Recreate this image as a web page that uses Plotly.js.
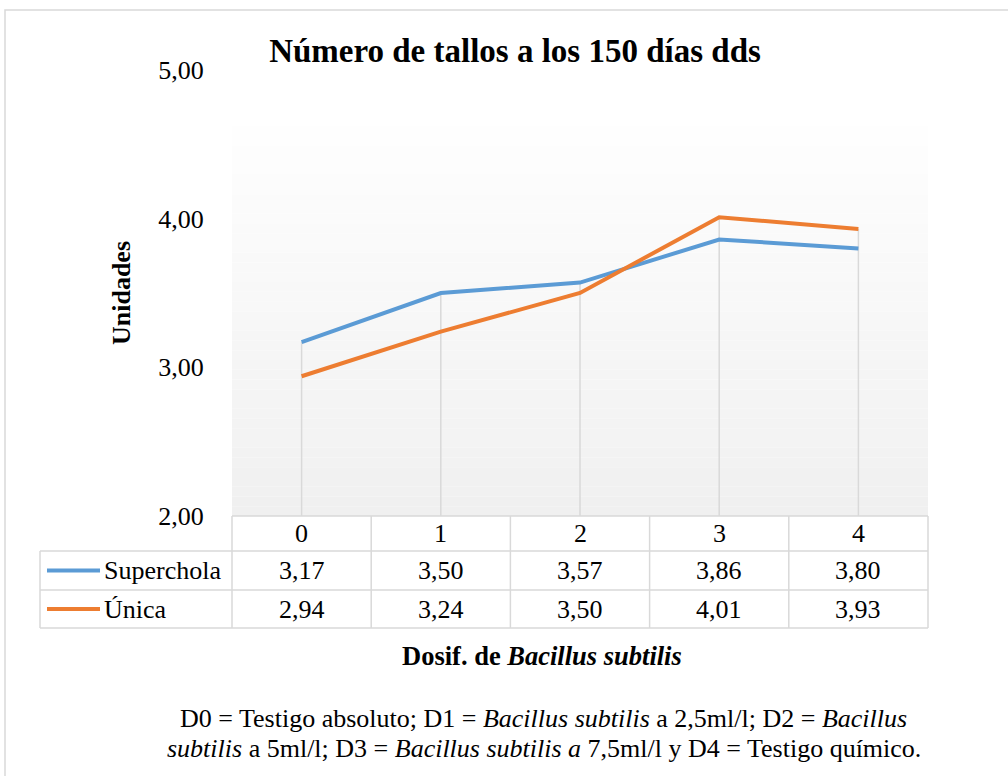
<!DOCTYPE html>
<html>
<head>
<meta charset="utf-8">
<script src="https://cdn.plot.ly/plotly-3.0.1.min.js"></script>
<style>html,body{margin:0;padding:0;background:#fff;}#chart{width:1008px;height:776px;}</style>
</head>
<body>
<div id="chart"></div>
<script>
var categories = ["0", "1", "2", "3", "4"];
var seriesNames = ["Superchola", "Única"];
var superchola = [3.17, 3.50, 3.57, 3.86, 3.80];
var unica = [2.94, 3.24, 3.50, 4.01, 3.93];
var yTicks = [2, 3, 4, 5];

var colors = ["#5B9BD5", "#ED7D31"];
var series = [superchola, unica];
var xIdx = categories.map(function (c, i) { return i; });

// pixel geometry helpers
var W = 1008, H = 776;
var mL = 232, mR = 80, mT = 70, mB = 260;
var pw = W - mL - mR, ph = H - mT - mB;
function px(x) { return (x - mL) / pw; }
function py(y) { return (H - mB - y) / ph; }
function fmt(v) { return v.toFixed(2).replace('.', ','); }

var font = 'Liberation Serif';
function f(size) { return { family: font, size: size, color: '#000' }; }

var traces = series.map(function (s, k) {
  return {
    type: 'scatter', mode: 'lines', name: seriesNames[k],
    x: xIdx, y: s,
    line: { color: colors[k], width: 4 },
    cliponaxis: false,
    hovertemplate: seriesNames[k] + ': %{y:.2f}<extra></extra>'
  };
});

var grid = '#d9d9d9';
var shapes = [];
// background gradient bands
var gTop = py(126), nb = 40;
for (var b = 0; b < nb; b++) {
  var t = b / (nb - 1);
  var c = Math.round(254 - 14 * t);
  shapes.push({ type: 'rect', xref: 'paper', yref: 'paper', layer: 'below',
    x0: 0, x1: 1, y0: gTop * (1 - (b + 1) / nb), y1: gTop * (1 - b / nb),
    line: { width: 0 }, fillcolor: 'rgb(' + c + ',' + c + ',' + c + ')' });
}
// outer frame
shapes.push({ type: 'rect', xref: 'paper', yref: 'paper', layer: 'below',
  x0: px(5), x1: px(1012), y0: py(10), y1: py(790),
  line: { color: grid, width: 1.5 }, fillcolor: 'rgba(0,0,0,0)' });
// drop lines (to highest value per category)
xIdx.forEach(function (i) {
  var top = Math.max(superchola[i], unica[i]);
  shapes.push({ type: 'line', xref: 'x', yref: 'y', layer: 'below',
    x0: i, x1: i, y0: 2, y1: top, line: { color: grid, width: 1.5 } });
});
// data table lines
var rowY = [516, 551, 590, 628];
var leftX = 40;
shapes.push({ type: 'line', xref: 'paper', yref: 'paper', x0: 0, x1: 1, y0: py(rowY[0]), y1: py(rowY[0]), line: { color: grid, width: 1.5 } });
for (var r = 1; r < rowY.length; r++) {
  shapes.push({ type: 'line', xref: 'paper', yref: 'paper', x0: px(leftX), x1: 1, y0: py(rowY[r]), y1: py(rowY[r]), line: { color: grid, width: 1.5 } });
}
shapes.push({ type: 'line', xref: 'paper', yref: 'paper', x0: px(leftX), x1: px(leftX), y0: py(rowY[1]), y1: py(rowY[3]), line: { color: grid, width: 1.5 } });
for (var j = 0; j <= categories.length; j++) {
  var xp = j / categories.length;
  shapes.push({ type: 'line', xref: 'paper', yref: 'paper', x0: xp, x1: xp, y0: py(rowY[0]), y1: py(rowY[3]), line: { color: grid, width: 1.5 } });
}
// legend keys in table
series.forEach(function (s, k) {
  var yc = py((rowY[k + 1] + rowY[k + 2]) / 2);
  shapes.push({ type: 'line', xref: 'paper', yref: 'paper', x0: px(47), x1: px(100), y0: yc, y1: yc, line: { color: colors[k], width: 4 } });
});

var annotations = [];
categories.forEach(function (c, i) {
  annotations.push({ xref: 'x', yref: 'paper', x: i, y: py((rowY[0] + rowY[1]) / 2), text: c, showarrow: false, font: f(26), xanchor: 'center', yanchor: 'middle' });
  series.forEach(function (s, k) {
    annotations.push({ xref: 'x', yref: 'paper', x: i, y: py((rowY[k + 1] + rowY[k + 2]) / 2), text: fmt(s[i]), showarrow: false, font: f(26), xanchor: 'center', yanchor: 'middle' });
  });
});
seriesNames.forEach(function (n, k) {
  annotations.push({ xref: 'paper', yref: 'paper', x: px(102), y: py((rowY[k + 1] + rowY[k + 2]) / 2), text: n, showarrow: false, font: f(26), xanchor: 'left', yanchor: 'middle' });
});
// x axis title
annotations.push({ xref: 'paper', yref: 'paper', x: px(542), y: py(656), text: '<b>Dosif. de <i>Bacillus subtilis</i></b>', showarrow: false, font: f(26.5), xanchor: 'center', yanchor: 'middle' });
// footnote (two lines)
annotations.push({ xref: 'paper', yref: 'paper', x: px(543), y: py(718), text: 'D0 = Testigo absoluto; D1 = <i>Bacillus subtilis</i> a 2,5ml/l; D2 = <i>Bacillus</i>', showarrow: false, font: f(26), xanchor: 'center', yanchor: 'middle' });
annotations.push({ xref: 'paper', yref: 'paper', x: px(544), y: py(748), text: '<i>subtilis</i> a 5ml/l; D3 = <i>Bacillus subtilis a</i> 7,5ml/l y D4 = Testigo químico.', showarrow: false, font: f(26), xanchor: 'center', yanchor: 'middle' });

var layout = {
  width: W, height: H,
  margin: { l: mL, r: mR, t: mT, b: mB, pad: 0 },
  paper_bgcolor: '#ffffff', plot_bgcolor: 'rgba(0,0,0,0)',
  font: f(26),
  separators: ',.',
  showlegend: false,
  title: { text: '<b>Número de tallos a los 150 días dds</b>', font: f(33), xref: 'paper', x: px(515), xanchor: 'center', yref: 'container', y: 1 - 50 / H, yanchor: 'middle' },
  xaxis: { range: [-0.5, categories.length - 0.5], showgrid: false, zeroline: false, showticklabels: false, ticks: '', showline: false, fixedrange: true },
  yaxis: { range: [2, 5], tickvals: yTicks, tickformat: '.2f', showgrid: false, zeroline: false, showline: false,
    ticks: 'outside', ticklen: 22, tickcolor: 'rgba(0,0,0,0)', tickfont: f(26),
    title: { text: '<b>Unidades</b>', font: f(26), standoff: 20 }, fixedrange: true },
  shapes: shapes,
  annotations: annotations
};

Plotly.newPlot('chart', traces, layout, { displayModeBar: false, staticPlot: true });
</script>
</body>
</html>
